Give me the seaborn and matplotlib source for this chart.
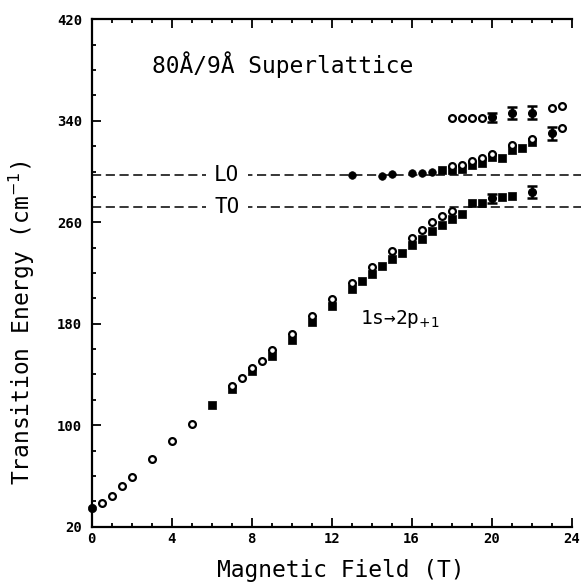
import matplotlib
matplotlib.use("Agg")
import matplotlib.pyplot as plt
import seaborn as sns
import numpy as np
import pandas as pd
from matplotlib.ticker import MultipleLocator

# ---------------- data ----------------
# lower branch, open circles
low_open_T = [0.5, 1, 1.5, 2, 3, 4, 5, 7, 7.5, 8, 8.5, 9, 10, 11, 12, 13, 14, 15, 16, 16.5, 17, 17.5, 18]
low_open_E = [38.9, 44.4, 52.1, 59.2, 73.1, 87.3, 101.2, 130.9, 137.0, 144.9, 150.9, 159.3, 171.7,
              186.3, 199.5, 212.4, 224.5, 237.3, 247.8, 253.9, 260.2, 265.2, 268.9]
# lower branch, filled squares
low_fill_T = [6, 7, 8, 9, 10, 11, 12, 13, 13.5, 14, 14.5, 15, 15.5, 16, 16.5, 17, 17.5, 18, 18.5,
              19, 19.5, 20.5, 21]
low_fill_E = [115.9, 128.8, 143.0, 154.6, 167.2, 181.1, 194.0, 207.1, 213.7, 219.0, 225.8, 230.8,
              236.0, 242.1, 246.6, 253.1, 257.8, 262.3, 266.3, 275.0, 275.4, 280.1, 280.7]
# zero-field point
zero_T = [0]
zero_E = [35]
# middle branch, filled circles near LO
mid_circ_T = [13, 14.5, 15, 16, 16.5, 17]
mid_circ_E = [297.0, 296.7, 297.8, 298.6, 298.6, 299.4]
# middle branch, filled squares
mid_sq_T = [17.5, 18, 18.5, 19, 19.5, 20, 20.5, 21, 21.5, 22]
mid_sq_E = [301.0, 301.2, 301.8, 305.1, 306.5, 311.7, 310.4, 317.0, 318.8, 323.0]
# middle branch, open circles
mid_open_T = [18, 18.5, 19, 19.5, 20, 21, 22, 23.5]
mid_open_E = [304.0, 305.5, 308.0, 310.5, 314.0, 321.0, 326.0, 334.0]
# upper branch, open circles
up_open_T = [18, 18.5, 19, 19.5, 23, 23.5]
up_open_E = [342.0, 342.0, 342.0, 342.0, 349.8, 351.9]
# points with error bars
err_T = [20, 21, 22, 23, 20, 22]
err_E = [342.7, 345.9, 346.4, 330.0, 278.9, 284.0]
err_dE = [3.6, 4.7, 5.0, 5.5, 3.7, 4.6]

LO_E = 297
TO_E = 272
x_ticks = [0, 4, 8, 12, 16, 20, 24]
y_ticks = [20, 100, 180, 260, 340, 420]

# ---------------- figure ----------------
sns.set_style("ticks")
plt.rcParams["font.family"] = ["DejaVu Sans Mono", "DejaVu Sans"]
plt.rcParams["text.color"] = "black"
plt.rcParams["axes.labelcolor"] = "black"
plt.rcParams["xtick.color"] = "black"
plt.rcParams["ytick.color"] = "black"
plt.rcParams["xtick.labelcolor"] = "black"
plt.rcParams["ytick.labelcolor"] = "black"

fig = plt.figure(figsize=(5.81, 5.82), dpi=100)
ax = fig.add_axes([0.1578, 0.095, 0.826, 0.8718])

ms_open = 24
ms_sq = 30
sns.scatterplot(x=low_open_T, y=low_open_E, ax=ax, marker="o", s=ms_open,
                facecolor="white", edgecolor="black", linewidth=1.6, zorder=4)
sns.scatterplot(x=mid_open_T, y=mid_open_E, ax=ax, marker="o", s=ms_open,
                facecolor="white", edgecolor="black", linewidth=1.6, zorder=4)
sns.scatterplot(x=up_open_T, y=up_open_E, ax=ax, marker="o", s=ms_open,
                facecolor="white", edgecolor="black", linewidth=1.6, zorder=4)
sns.scatterplot(x=low_fill_T, y=low_fill_E, ax=ax, marker="s", s=ms_sq,
                color="black", edgecolor="black", linewidth=0.5, zorder=3)
sns.scatterplot(x=mid_sq_T, y=mid_sq_E, ax=ax, marker="s", s=ms_sq,
                color="black", edgecolor="black", linewidth=0.5, zorder=3)
sns.scatterplot(x=mid_circ_T, y=mid_circ_E, ax=ax, marker="o", s=30,
                color="black", edgecolor="black", linewidth=0.5, zorder=3)
sns.scatterplot(x=zero_T, y=zero_E, ax=ax, marker="o", s=36,
                color="black", edgecolor="black", linewidth=0.5, zorder=3, clip_on=False)
ax.errorbar(err_T, err_E, yerr=err_dE, fmt="o", color="black", ms=5.5,
            capsize=3.6, capthick=1.8, elinewidth=1.8, zorder=5)

# LO / TO dashed lines
for e in (LO_E, TO_E):
    ax.plot([0, 24.45], [e, e], color="black", lw=1.1, ls=(0, (6, 3)),
            zorder=1, clip_on=False)
ax.text(6.75, LO_E, "LO", ha="center", va="center", fontsize=15,
        bbox=dict(facecolor="white", edgecolor="none", pad=6), zorder=2)
ax.text(6.75, TO_E, "TO", ha="center", va="center", fontsize=15,
        bbox=dict(facecolor="white", edgecolor="none", pad=6), zorder=2)

ax.text(3.0, 384, "80Å/9Å Superlattice", fontsize=16.5, ha="left", va="center")
ax.text(13.4, 180, r"1s→2p$_{+1}$", fontsize=14, ha="left", va="baseline")

ax.set_xlim(0, 24)
ax.set_ylim(20, 420)
ax.set_xticks(x_ticks)
ax.set_yticks(y_ticks)
ax.xaxis.set_minor_locator(MultipleLocator(1))
ax.yaxis.set_minor_locator(MultipleLocator(20))
ax.tick_params(which="both", direction="in", top=True, right=False, width=1.3, color="black")
ax.tick_params(which="major", length=6.5, labelsize=10)
ax.tick_params(axis="x", which="major", pad=4)
ax.tick_params(axis="y", which="major", pad=7)
ax.tick_params(which="minor", length=3)
for lab in ax.get_xticklabels() + ax.get_yticklabels():
    lab.set_fontweight("bold")

for side in ("left", "bottom", "top"):
    ax.spines[side].set_linewidth(1.6)
    ax.spines[side].set_color("black")
ax.spines["right"].set_visible(False)

ax.set_xlabel("Magnetic Field (T)", fontsize=16.5)
ax.set_ylabel(r"Transition Energy (cm$^{-1}$)", fontsize=16.5)
ax.xaxis.set_label_coords(0.52, -0.064)
ax.yaxis.set_label_coords(-0.114, 0.403)

fig.savefig("out.png", dpi=100)
